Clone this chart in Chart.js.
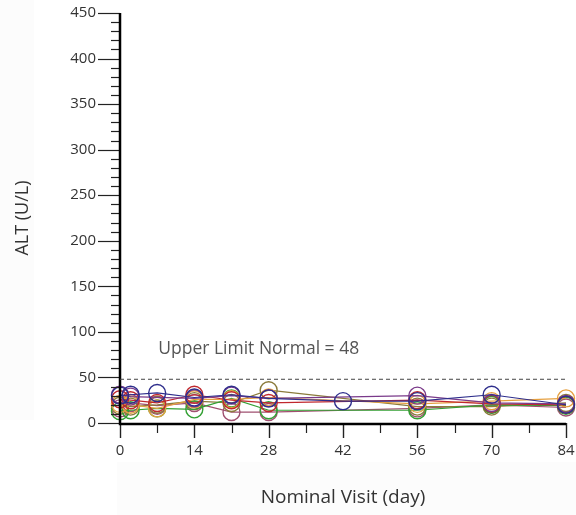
<!DOCTYPE html>
<html><head><meta charset="utf-8">
<script src="https://cdn.jsdelivr.net/npm/chart.js@4"></script>
<style>html,body{margin:0;padding:0;background:#fff}#wrap{width:576px;height:515px;position:relative}</style>
</head><body><div id="wrap"><canvas id="c" width="576" height="515"></canvas></div>
<script>
const days = [0, 2, 7, 14, 21, 28, 42, 56, 70, 84];
const navy   = [30, 31, 33, 28, 31, 27, 24, 24, 31, 20];
const purple = [31, 29, null, 27, 30, 27, null, 30, 22, 21];
const red    = [26, 25, 22, 31, 25, 22, null, 25, 21, 20];
const orange = [21, 20, 16, 26, 26, 28, null, 21, 24, 27];
const green  = [13, 14, 16, 15, 27, 14, null, 14, 20, 19];
const olive  = [19, 18, 20, 24, 22, 36, null, 18, 18, 22];
const rose   = [16, 22, 19, 22, 12, 12, null, 16, 20, 17];
const yTicks = [0, 50, 100, 150, 200, 250, 300, 350, 400, 450];
const xTicks = [0, 14, 28, 42, 56, 70, 84];
const uln = 48;
const ulnLabel = 'Upper Limit Normal = 48';

const seriesList = [
  [navy, '#2e2e8c'], [purple, '#7a3a8a'], [red, '#c0282e'], [orange, '#e6a040'],
  [green, '#33a033'], [olive, '#8a7a3a'], [rose, '#a05070']
];

Chart.defaults.font.family = "'Open Sans', sans-serif";

const datasets = seriesList.map(([vals, col]) => ({
  data: days.map((d, i) => vals[i] == null ? null : {x: d, y: vals[i]}).filter(p => p),
  borderColor: col, backgroundColor: 'rgba(0,0,0,0)', borderWidth: 1.2,
  pointRadius: 8.5, pointBorderWidth: 1.4, pointBorderColor: col, pointBackgroundColor: 'rgba(0,0,0,0)',
  tension: 0, clip: false
}));

const decor = {
  id: 'decor',
  beforeDraw(chart) {
    const ctx = chart.ctx;
    ctx.save();
    ctx.fillStyle = '#fcfcfc';
    ctx.fillRect(0, 0, 34, 420);
    ctx.fillRect(117, 462, 459, 53);
    ctx.restore();
  },
  afterDraw(chart) {
    const ctx = chart.ctx, xs = chart.scales.x, ys = chart.scales.y;
    const L = chart.chartArea.left, B = chart.chartArea.bottom, R = chart.chartArea.right, T = chart.chartArea.top;
    ctx.save();
    ctx.strokeStyle = '#222';
    ctx.lineWidth = 1.2;
    for (let v = 0; v <= 450; v += 10) {
      const py = Math.round(ys.getPixelForValue(v)) + 0.5;
      const len = v % 50 === 0 ? 22 : 9;
      ctx.beginPath(); ctx.moveTo(L - len, py); ctx.lineTo(L, py); ctx.stroke();
    }
    for (let d = 0; d <= 84; d += 7) {
      const px = Math.round(xs.getPixelForValue(d)) + 0.5;
      const len = d % 14 === 0 ? 15 : 10;
      ctx.lineWidth = d % 14 === 0 ? 1.4 : 1.2;
      ctx.beginPath(); ctx.moveTo(px, B); ctx.lineTo(px, B + len); ctx.stroke();
    }
    ctx.strokeStyle = '#000';
    ctx.lineWidth = 2.5;
    ctx.beginPath(); ctx.moveTo(L, T); ctx.lineTo(L, B + 1); ctx.lineTo(R, B + 1); ctx.stroke();
    const py = ys.getPixelForValue(uln);
    ctx.strokeStyle = '#444';
    ctx.lineWidth = 1;
    ctx.setLineDash([4, 3]);
    ctx.beginPath(); ctx.moveTo(L, py); ctx.lineTo(R, py); ctx.stroke();
    ctx.setLineDash([]);
    ctx.fillStyle = '#555';
    ctx.font = "17.5px 'Open Sans', sans-serif";
    ctx.textBaseline = 'middle';
    ctx.fillText(ulnLabel, xs.getPixelForValue(7.2), ys.getPixelForValue(81));
    ctx.restore();
  }
};

new Chart(document.getElementById('c'), {
  type: 'line',
  data: { datasets },
  options: {
    responsive: false, animation: false,
    layout: { padding: { top: 13, right: 10, left: 0, bottom: 0 } },
    plugins: { legend: { display: false }, tooltip: { enabled: false } },
    scales: {
      x: {
        type: 'linear', min: 0, max: 84,
        afterFit(s) { s.height = 92; s.paddingRight = 0; s.paddingLeft = 0; },
        afterBuildTicks(s) { s.ticks = xTicks.map(v => ({ value: v })); },
        grid: { display: true, drawOnChartArea: false, drawTicks: true, tickLength: 17, color: 'rgba(0,0,0,0)' },
        border: { display: false },
        ticks: { padding: 2, color: '#333', font: { size: 15 }, maxRotation: 0, autoSkip: false },
        title: { display: true, text: 'Nominal Visit (day)', color: '#333', font: { size: 19 }, padding: { bottom: 6, top: 0 } }
      },
      y: {
        min: 0, max: 450,
        afterFit(s) { s.width = 120; s.paddingTop = 0; s.paddingBottom = 0; },
        afterBuildTicks(s) { s.ticks = yTicks.map(v => ({ value: v })); },
        grid: { display: false, drawTicks: false },
        border: { display: false },
        ticks: { padding: 24, color: '#333', font: { size: 15 }, autoSkip: false },
        title: { display: true, text: 'ALT (U/L)', color: '#333', font: { size: 18 }, padding: { top: 12, bottom: 0 } }
      }
    }
  },
  plugins: [decor]
});
</script></body></html>
